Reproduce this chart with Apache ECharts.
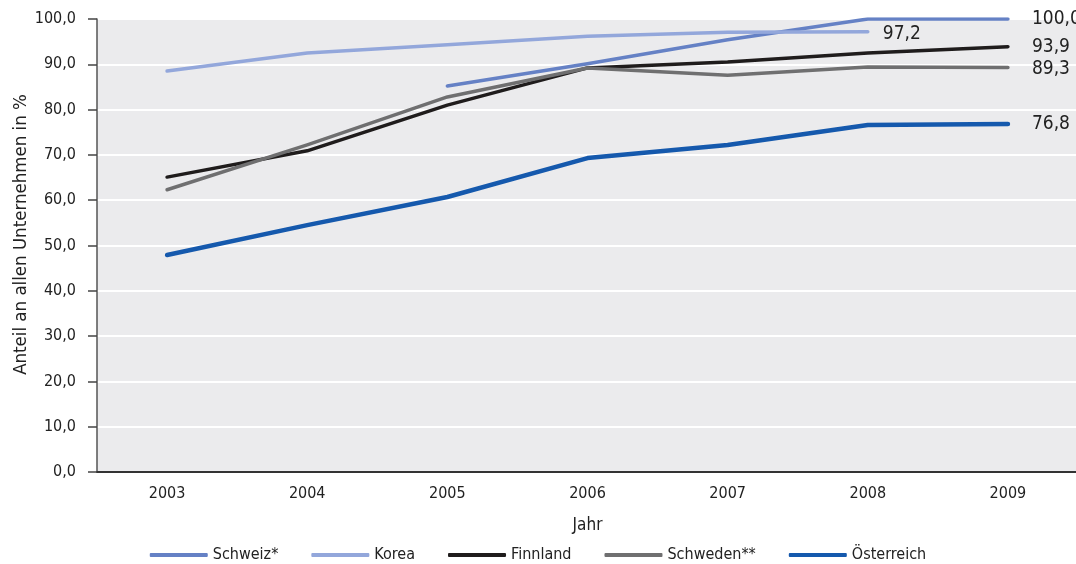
<!DOCTYPE html>
<html>
<head>
<meta charset="utf-8">
<script src="https://cdn.jsdelivr.net/npm/echarts@6/dist/echarts.min.js"></script>
<style>
html,body{margin:0;padding:0;background:#fff;}
#chart{width:1076px;height:564px;}
</style>
</head>
<body>
<div id="chart"></div>
<script>
const years = ['2003','2004','2005','2006','2007','2008','2009'];
const schweiz = [null, null, 85.2, 90.1, 95.4, 100.0, 100.0];
const korea = [88.5, 92.5, 94.3, 96.2, 97.1, 97.2, null];
const finnland = [65.1, 70.9, 81.0, 89.2, 90.5, 92.5, 93.9];
const schweden = [62.3, 72.2, 82.8, 89.2, 87.6, 89.4, 89.3];
const oesterreich = [47.9, 54.5, 60.7, 69.3, 72.2, 76.6, 76.8];
const seriesNames = ['Schweiz*', 'Korea', 'Finnland', 'Schweden**', 'Österreich'];

const FONT = '"Liberation Sans Narrow", "DejaVu Sans Condensed", "Roboto Condensed", "Liberation Sans", sans-serif';
const fmt = v => v.toFixed(1).replace('.', ',');

function lastIdx(arr){ let k = -1; arr.forEach((v,i)=>{ if(v!==null) k=i; }); return k; }
function buildData(arr, dist, dy){
  const li = lastIdx(arr);
  return arr.map((v,i)=>{
    if (i === li) {
      return {value: v, label: {show: true, position: 'right', distance: dist, offset: [0, dy],
        formatter: p => fmt(p.value), color: '#222', fontSize: 19, fontFamily: FONT}};
    }
    return v;
  });
}
function mk(name, arr, color, width, dist, dy){
  return {name, type:'line', data: buildData(arr, dist, dy), symbol:'circle', symbolSize:0, showSymbol:true,
    lineStyle:{color, width, cap:'round', join:'round'}, itemStyle:{color}, silent:true, animation:false,
    label:{show:false}};
}

const chart = echarts.init(document.getElementById('chart'), null, {renderer:'canvas'});
chart.setOption({
  animation:false,
  textStyle:{fontFamily:FONT},
  grid:{left:97, right:-2, top:19, bottom:92, show:true, backgroundColor:'#ebebed', borderWidth:0,
    containLabel:false, outerBoundsMode:'none'},
  legend:{
    top:542, left:'center', itemWidth:58, itemHeight:4, itemGap:33,
    textStyle:{fontFamily:FONT, fontSize:16, color:'#222'},
    icon:'roundRect',
    data: seriesNames
  },
  xAxis:{
    type:'category', data: years, boundaryGap:true,
    axisLine:{lineStyle:{color:'#333', width:2}},
    axisTick:{show:false},
    axisLabel:{color:'#222', fontSize:16, fontFamily:FONT, margin:14},
    name:'Jahr', nameLocation:'middle', nameGap:45,
    nameTextStyle:{color:'#222', fontSize:17, fontFamily:FONT}
  },
  yAxis:{
    type:'value', min:0, max:100, interval:10,
    axisLine:{show:true, lineStyle:{color:'#555', width:1.5}},
    axisTick:{show:true, length:9, lineStyle:{color:'#444', width:1.5}},
    axisLabel:{color:'#222', fontSize:16, fontFamily:FONT, margin:21, formatter: v => fmt(v)},
    splitLine:{lineStyle:{color:'#ffffff', width:2}},
    name:'Anteil an allen Unternehmen in %', nameLocation:'middle', nameGap:66, nameMoveOverlap:false,
    nameTextStyle:{color:'#222', fontSize:18.5, fontFamily:FONT, padding:[0,0,0,22]}
  },
  series:[
    mk('Schweiz*', schweiz, '#6581c5', 3.5, 24, 0),
    mk('Korea', korea, '#93a7db', 3.5, 15, 2),
    mk('Finnland', finnland, '#1f1c1c', 3.5, 24, 0),
    mk('Schweden**', schweden, '#6f6f70', 3.5, 24, 2),
    mk('Österreich', oesterreich, '#1559ad', 4.5, 24, 0)
  ]
});
</script>
</body>
</html>
